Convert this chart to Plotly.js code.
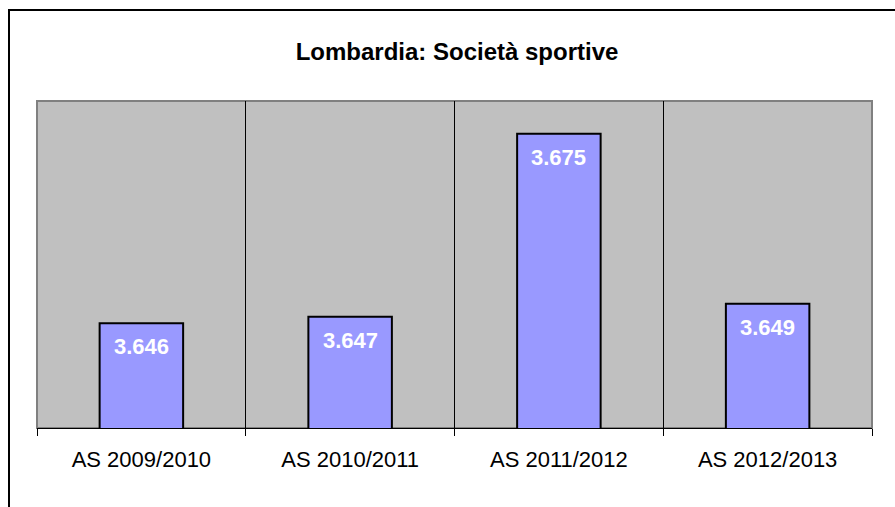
<!DOCTYPE html>
<html>
<head>
<meta charset="utf-8">
<script src="https://cdn.plot.ly/plotly-3.0.1.min.js"></script>
<style>
  html, body { margin: 0; padding: 0; background: #ffffff; }
  #chart { width: 895px; height: 507px; }
</style>
</head>
<body>
<div id="chart"></div>
<script>
// Numero di società sportive in Lombardia per anno sportivo
const stagioni = ['AS 2009/2010', 'AS 2010/2011', 'AS 2011/2012', 'AS 2012/2013'];
const societa = [3646, 3647, 3675, 3649];

// Separatore delle migliaia all'italiana (3646 -> 3.646)
const italiano = v => v.toString().replace(/\B(?=(\d{3})+(?!\d))/g, '.');

const trace = {
  type: 'bar',
  x: stagioni,
  y: societa,
  marker: { color: '#9999FF', line: { color: '#000000', width: 2 } },
  hoverinfo: 'x+y',
  cliponaxis: false
};

// Etichette con il valore, scritte in bianco in cima a ogni barra
const etichette = stagioni.map((s, i) => ({
  x: s, y: societa[i], xref: 'x', yref: 'y',
  text: '<b>' + italiano(societa[i]) + '</b>',
  showarrow: false, yanchor: 'top', xanchor: 'center', yshift: -9,
  font: { family: 'Arial, Liberation Sans, sans-serif', size: 22, color: '#ffffff' }
}));

const layout = {
  width: 895, height: 507,
  margin: { l: 37, r: 23, t: 101, b: 79, pad: 0 },
  paper_bgcolor: '#ffffff',
  plot_bgcolor: '#C0C0C0',
  showlegend: false,
  bargap: 0.6,
  separators: ',.',
  font: { family: 'Arial, Liberation Sans, sans-serif', color: '#000000' },
  title: {
    text: '<b>Lombardia: Società sportive</b>',
    font: { size: 24, color: '#000000' },
    x: 0.503, xref: 'paper', xanchor: 'center',
    y: 1 - 52 / 507, yref: 'container', yanchor: 'middle'
  },
  xaxis: {
    type: 'category',
    tickson: 'boundaries',
    showgrid: true, gridcolor: '#000000', gridwidth: 1,
    showline: true, linecolor: '#000000', linewidth: 1,
    ticks: 'outside', ticklen: 7, tickcolor: '#000000', tickwidth: 1,
    ticklabelstandoff: 12,
    tickfont: { size: 22, color: '#000000' },
    fixedrange: true
  },
  yaxis: {
    range: [3630, 3680],
    showgrid: false, zeroline: false, showline: false,
    showticklabels: false, ticks: '',
    fixedrange: true
  },
  shapes: [
    // bordo grigio dell'area del grafico
    {
      type: 'rect', xref: 'paper', yref: 'paper', layer: 'below',
      x0: 0, x1: 1, y0: 0, y1: 1,
      line: { color: '#808080', width: 2 }, fillcolor: 'rgba(0,0,0,0)'
    },
    // cornice esterna
    {
      type: 'rect', xref: 'paper', yref: 'paper', layer: 'above',
      x0: (9 - 37) / 835, x1: 1.2, y0: -0.5, y1: 1 + (101 - 10) / 327,
      line: { color: '#000000', width: 2 }, fillcolor: 'rgba(0,0,0,0)'
    }
  ],
  annotations: etichette
};

Plotly.newPlot('chart', [trace], layout, { displayModeBar: false, staticPlot: true });
</script>
</body>
</html>
